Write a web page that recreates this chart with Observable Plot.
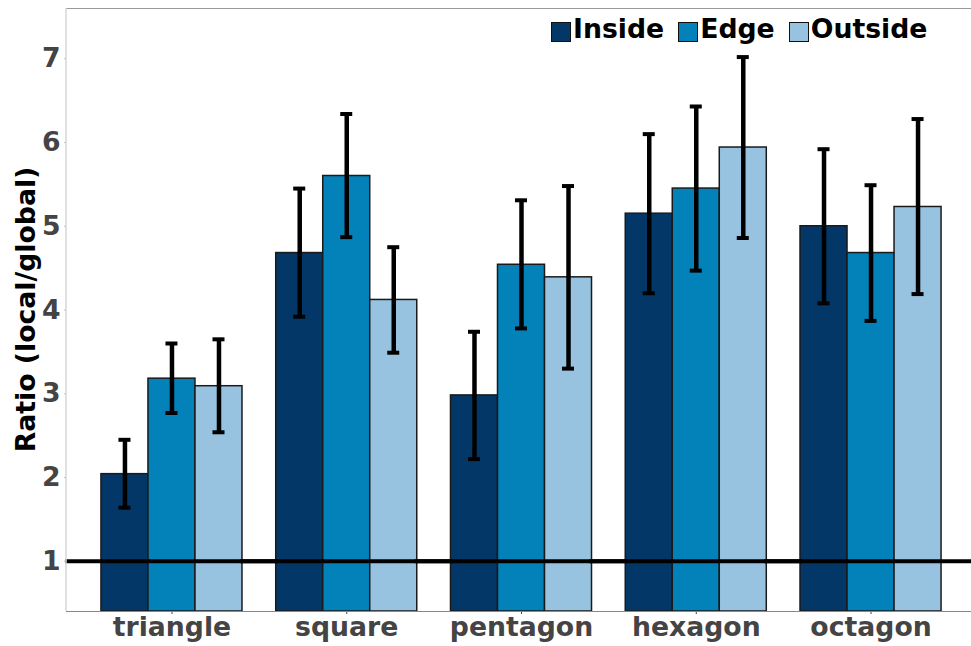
<!DOCTYPE html>
<html>
<head>
<meta charset="utf-8">
<script src="https://cdn.jsdelivr.net/npm/d3@7"></script>
<script src="https://cdn.jsdelivr.net/npm/@observablehq/plot@0.6"></script>
<style>
  html, body { margin: 0; padding: 0; background: #fff; overflow: hidden; }
  #wrap { position: relative; width: 971px; height: 646px; overflow: hidden; font-family: "DejaVu Sans", sans-serif; }
  #legend { position: absolute; left: 551px; top: 15.5px; display: flex; font-weight: bold; font-size: 26.7px; line-height: 1; color: #000; white-space: nowrap; }
  #legend .item { display: flex; align-items: flex-start; margin-right: 14px; }
  #legend .sw { width: 18px; height: 18px; border: 1px solid #111; margin-top: 6.5px; margin-right: 2px; }
</style>
</head>
<body>
<div id="wrap"><div id="legend"></div></div>
<script>
const categories = ["triangle", "square", "pentagon", "hexagon", "octagon"];
const series = ["Inside", "Edge", "Outside"];
const colors = ["#023768", "#0382ba", "#97c3e1"];

const insideMean = [2.04, 4.68, 2.98, 5.15, 5.00];
const insideLow  = [1.64, 3.92, 2.22, 4.20, 4.08];
const insideHigh = [2.45, 5.45, 3.74, 6.10, 5.92];

const edgeMean = [3.18, 5.60, 4.54, 5.45, 4.68];
const edgeLow  = [2.77, 4.87, 3.78, 4.47, 3.87];
const edgeHigh = [3.60, 6.34, 5.31, 6.43, 5.49];

const outsideMean = [3.09, 4.12, 4.39, 5.94, 5.23];
const outsideLow  = [2.54, 3.49, 3.30, 4.86, 4.19];
const outsideHigh = [3.65, 4.75, 5.48, 7.02, 6.28];

const yTicks = [1, 2, 3, 4, 5, 6, 7];
const yLabel = "Ratio (local/global)";
const referenceValue = 1;

const seriesData = {
  Inside: [insideMean, insideLow, insideHigh],
  Edge: [edgeMean, edgeLow, edgeHigh],
  Outside: [outsideMean, outsideLow, outsideHigh]
};
const rows = [];
categories.forEach((c, i) => {
  series.forEach(s => {
    const [m, lo, hi] = seriesData[s];
    rows.push({category: c, series: s, value: m[i], low: lo[i], high: hi[i]});
  });
});

const W = 971, H = 646;
const mL = 66, mR = -5, mT = 8, mB = 35;
const padInner = 0.193, padOuter = 0.2;
const step = (W - mL - mR) / (categories.length - padInner + 2 * padOuter);
const outerGap = step * padOuter;
const yDomain = [0.4, 7.6];

const plot = Plot.plot({
  width: W,
  height: H,
  marginLeft: mL,
  marginRight: mR,
  marginTop: mT,
  marginBottom: mB,
  style: {fontFamily: "DejaVu Sans", fontSize: "26.7px", fontWeight: "bold", color: "#444", background: "#fff"},
  facet: {data: rows, x: "category"},
  fx: {domain: categories, paddingInner: padInner, paddingOuter: padOuter, round: false, axis: "bottom", label: null, tickSize: 3, tickPadding: 3},
  x: {domain: series, padding: 0, round: false, axis: null},
  y: {domain: yDomain, axis: null},
  color: {domain: series, range: colors},
  marks: [
    Plot.barY(rows, {x: "series", y1: yDomain[0], y2: "value", fill: "series", stroke: "#1a1a1a", strokeWidth: 1.5}),
    Plot.ruleY(yDomain.slice(0, 1), {stroke: "#888", strokeWidth: 1.2, insetLeft: -outerGap, insetRight: -outerGap}),
    Plot.ruleY(yDomain.slice(1), {stroke: "#999", strokeWidth: 1.2, insetLeft: -outerGap, insetRight: -outerGap}),
    Plot.ruleY([referenceValue], {stroke: "#000", strokeWidth: 4, insetLeft: -outerGap - 1, insetRight: -outerGap - 1}),
    Plot.ruleX(rows, {x: "series", y1: "low", y2: "high", stroke: "#000", strokeWidth: 4.5}),
    Plot.tickY(rows, {x: "series", y: "high", stroke: "#000", strokeWidth: 4, insetLeft: 17.5, insetRight: 17.5}),
    Plot.tickY(rows, {x: "series", y: "low", stroke: "#000", strokeWidth: 4, insetLeft: 17.5, insetRight: 17.5}),
    Plot.axisY({ticks: yTicks, tickSize: 2, tickPadding: 4, dx: -outerGap, label: null, stroke: "#bbb", fill: "#444"})
  ]
});

const wrap = document.getElementById("wrap");
wrap.insertBefore(plot, wrap.firstChild);

const svg = d3.select(plot.tagName.toLowerCase() === "svg" ? plot : plot.querySelector("svg"));
const yRange = plot.scale("y").range;

// left spine
svg.append("line")
  .attr("x1", mL).attr("x2", mL)
  .attr("y1", yRange[0]).attr("y2", yRange[1])
  .attr("stroke", "#d6d6d6").attr("stroke-width", 1.5);

// y axis title
svg.append("text")
  .attr("transform", `translate(35, ${(yRange[0] + yRange[1]) / 2}) rotate(-90)`)
  .attr("text-anchor", "middle")
  .attr("fill", "#000")
  .attr("font-weight", "bold")
  .attr("font-size", "26.7px")
  .text(yLabel);

// legend
const legend = document.getElementById("legend");
series.forEach((s, i) => {
  const item = document.createElement("div");
  item.className = "item";
  const sw = document.createElement("div");
  sw.className = "sw";
  sw.style.background = colors[i];
  const t = document.createElement("span");
  t.textContent = s;
  item.appendChild(sw);
  item.appendChild(t);
  legend.appendChild(item);
});
</script>
</body>
</html>
